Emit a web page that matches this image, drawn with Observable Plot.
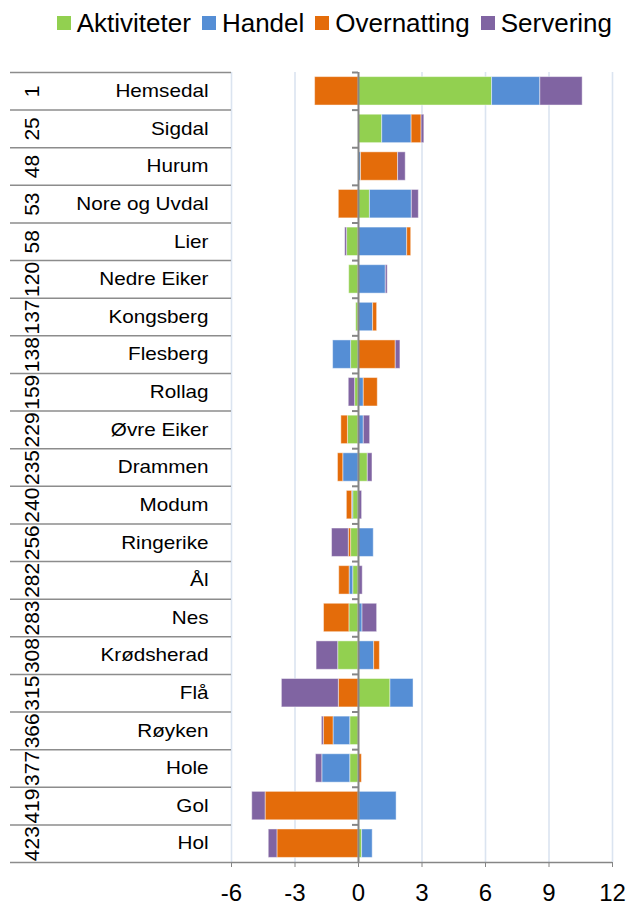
<!DOCTYPE html>
<html><head><meta charset="utf-8">
<script src="https://cdn.jsdelivr.net/npm/d3@7"></script>
<script src="https://cdn.jsdelivr.net/npm/@observablehq/plot@0.6"></script>
<style>
body{margin:0;background:#fff;font-family:"Liberation Sans",Arial,sans-serif;}
#legend{height:46px;display:flex;justify-content:flex-end;align-items:center;padding-right:16px;font-size:26px;color:#000;box-sizing:border-box;}
.item{display:flex;align-items:center;margin-left:11px;white-space:nowrap;}
.sw{width:14px;height:14px;margin-right:6px;}
#chart svg{display:block;}
</style></head><body>
<div id="legend"></div>
<div id="chart"></div>
<script>
const names = ["Hemsedal","Sigdal","Hurum","Nore og Uvdal","Lier","Nedre Eiker","Kongsberg","Flesberg","Rollag","Øvre Eiker","Drammen","Modum","Ringerike","Ål","Nes","Krødsherad","Flå","Røyken","Hole","Gol","Hol"];
const ranks = [1,25,48,53,58,120,137,138,159,229,235,240,256,282,283,308,315,366,377,419,423];
const seriesNames = ["Aktiviteter","Handel","Overnatting","Servering"];
const seriesColors = ["#92d050","#558ed5","#e46c0a","#8064a2"];
const aktiviteter = [6.31,1.12,0,0.54,-0.54,-0.44,-0.11,-0.35,-0.16,-0.5,0.44,-0.25,-0.35,-0.25,-0.43,-0.96,1.51,-0.39,-0.39,0.04,0.17];
const handel      = [2.28,1.39,0.12,1.98,2.3,1.29,0.69,-0.85,0.25,0.25,-0.72,-0.05,0.72,-0.17,0.19,0.74,1.09,-0.79,-1.32,1.76,0.5];
const overnatting = [-2.05,0.47,1.75,-0.93,0.19,0,0.19,1.76,0.66,-0.31,-0.25,-0.25,-0.11,-0.49,-1.2,0.27,-0.93,-0.46,0.16,-4.39,-3.83];
const servering   = [2.0,0.13,0.36,0.33,-0.09,0.09,0,0.22,-0.3,0.3,0.22,0.17,-0.79,0.2,0.69,-1.02,-2.69,-0.09,-0.3,-0.63,-0.41];
const xTicks = [-6,-3,0,3,6,9,12];

// legend
const legend = document.getElementById("legend");
seriesNames.forEach((s, k) => {
  const it = document.createElement("div"); it.className = "item";
  const sw = document.createElement("div"); sw.className = "sw"; sw.style.background = seriesColors[k];
  const tx = document.createElement("span"); tx.textContent = s;
  it.appendChild(sw); it.appendChild(tx); legend.appendChild(it);
});

// stacked segments (diverging stack, series order outward from zero)
const seriesValues = [aktiviteter, handel, overnatting, servering];
const segments = [];
names.forEach((name, i) => {
  let pos = 0, neg = 0;
  seriesValues.forEach((vals, s) => {
    const v = vals[i];
    if (!v) return;
    if (v > 0) { segments.push({row: i, series: seriesNames[s], x1: pos, x2: pos + v}); pos += v; }
    else { segments.push({row: i, series: seriesNames[s], x1: neg, x2: neg + v}); neg += v; }
  });
});

const W = 628, H = 860, ML = 231, MR = 16, MT = 26, MB = 44;
const pxPerUnit = (W - ML - MR) / (xTicks[xTicks.length - 1] - xTicks[0]);
const boundaries = d3.range(names.length + 1);
const centers = names.map((_, i) => i + 0.5);

const chart = Plot.plot({
  width: W, height: H, marginLeft: ML, marginRight: MR, marginTop: MT, marginBottom: MB,
  style: {fontFamily: "Liberation Sans, Arial, sans-serif", color: "#000", background: "#fff", overflow: "visible"},
  x: {domain: [xTicks[0], xTicks[xTicks.length - 1]]},
  y: {domain: [0, names.length], reverse: true},
  color: {domain: seriesNames, range: seriesColors},
  marks: [
    Plot.ruleX(xTicks.filter(t => t !== 0), {stroke: "#dbe4f0", strokeWidth: 1.6}),
    Plot.rectX(segments, {x1: "x1", x2: "x2", y1: "row", y2: d => d.row + 1, fill: "series", insetTop: 4.6, insetBottom: 4.6, stroke: "#fff", strokeOpacity: 0.45, strokeWidth: 1}),
    Plot.ruleX([0], {stroke: "#868686", strokeWidth: 2}),
    Plot.ruleY(boundaries.slice(0, -1), {y: d => d, x1: 0, x2: -6 / pxPerUnit, stroke: "#868686", strokeWidth: 2}),
    Plot.ruleY([names.length], {y: d => d, stroke: "#868686", strokeWidth: 1.5}),
    Plot.axisY(boundaries, {tickSize: 221, tickFormat: () => "", stroke: "#8c8c8c", strokeWidth: 1.5, label: null}),
    Plot.axisX(xTicks, {tickSize: 5, tickPadding: 16, fontSize: 24, stroke: "#868686", label: null, tickFormat: d => String(d)}),
    Plot.text(centers, {y: d => d, text: (d, i) => names[i], frameAnchor: "left", dx: -23, textAnchor: "end", lineAnchor: "middle", fontSize: 18}),
    Plot.text(centers, {y: d => d, text: (d, i) => String(ranks[i]), frameAnchor: "left", dx: -199, rotate: -90, textAnchor: "middle", lineAnchor: "middle", fontSize: 21})
  ]
});

// widen municipality labels horizontally like the reference (scale about each label's anchor)
const nameSet = new Set(names);
chart.querySelectorAll("text").forEach(t => {
  if (!nameSet.has(t.textContent)) return;
  const tr = t.getAttribute("transform");
  if (tr && /translate/.test(tr)) t.setAttribute("transform", tr + " scale(1.15,1)");
});
document.getElementById("chart").appendChild(chart);
</script>
</body></html>
